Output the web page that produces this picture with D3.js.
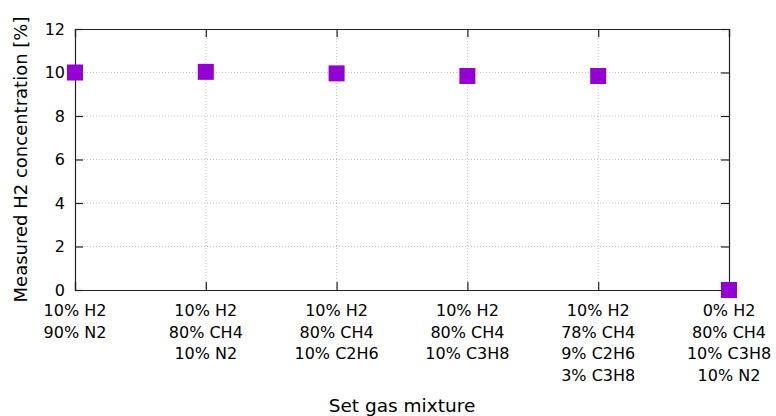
<!DOCTYPE html>
<html>
<head>
<meta charset="utf-8">
<script src="https://cdn.jsdelivr.net/npm/d3@7"></script>
<style>
body{margin:0;background:#fff;}
svg{font-family:"DejaVu Sans",sans-serif;}
</style>
</head>
<body>
<svg id="svg" width="776" height="416"></svg>
<script>
var mixtures=[
    ["10% H2","90% N2"],
    ["10% H2","80% CH4","10% N2"],
    ["10% H2","80% CH4","10% C2H6"],
    ["10% H2","80% CH4","10% C3H8"],
    ["10% H2","78% CH4","9% C2H6","3% C3H8"],
    ["0% H2","80% CH4","10% C3H8","10% N2"]
];
var measured=[10.0,10.03,9.96,9.84,9.84,0.0];
var yTicks=[0,2,4,6,8,10,12];

var svg=d3.select('#svg');
var padding={top:29,right:47,bottom:126,left:75};
var chartArea={
    "width":776-padding.left-padding.right,
    "height":416-padding.top-padding.bottom
};

var xScale=d3.scaleLinear().domain([0,mixtures.length-1]).range([0,chartArea.width]);
var yScale=d3.scaleLinear().domain([0,12]).range([chartArea.height,0]);

var g=svg.append("g").attr('transform','translate('+padding.left+','+padding.top+')');

// grid
g.selectAll(".hgrid").data(yTicks.slice(1,-1)).enter().append("line")
    .attr("x1",0).attr("x2",chartArea.width)
    .attr("y1",function(d){return yScale(d);}).attr("y2",function(d){return yScale(d);})
    .attr("stroke","#b0b0b0").attr("stroke-width",0.8).attr("stroke-dasharray","1,2");
g.selectAll(".vgrid").data(d3.range(1,mixtures.length-1)).enter().append("line")
    .attr("y1",0).attr("y2",chartArea.height)
    .attr("x1",function(d){return xScale(d);}).attr("x2",function(d){return xScale(d);})
    .attr("stroke","#b0b0b0").attr("stroke-width",0.8).attr("stroke-dasharray","1,2");

// axes
var yAxis=g.append("g").call(d3.axisLeft(yScale).tickValues(yTicks).tickSize(-8).tickPadding(10));
var yAxisR=g.append("g").attr('transform','translate('+chartArea.width+',0)')
    .call(d3.axisRight(yScale).tickValues(yTicks).tickSize(-8).tickFormat(""));
var xAxis=g.append("g").attr('transform','translate(0,'+chartArea.height+')')
    .call(d3.axisBottom(xScale).tickValues(d3.range(mixtures.length)).tickSize(-8).tickFormat(""));
var xAxisT=g.append("g")
    .call(d3.axisTop(xScale).tickValues(d3.range(mixtures.length)).tickSize(-8).tickFormat(""));
[yAxis,yAxisR,xAxis,xAxisT].forEach(function(a){
    a.select(".domain").attr("stroke","#222").attr("stroke-width",1.2);
    a.selectAll(".tick line").attr("stroke","#222").attr("stroke-width",1.2);
});
yAxis.selectAll("text").attr("font-size","16px").attr("fill","#000")
    .attr("font-family","DejaVu Sans");

// category labels
var labels=g.append("g").selectAll("text").data(mixtures).enter().append("text")
    .attr("x",function(d,i){return xScale(i);})
    .attr("y",chartArea.height+26)
    .attr("text-anchor","middle")
    .attr("font-size","16px");
labels.selectAll("tspan").data(function(d){return d;}).enter().append("tspan")
    .attr("x",function(){return d3.select(this.parentNode).attr("x");})
    .attr("dy",function(d,i){return i===0?0:21.5;})
    .text(function(d){return d;});

// points
var sz=16;
g.selectAll(".pt").data(measured).enter().append("rect")
    .attr("x",function(d,i){return xScale(i)-sz/2;})
    .attr("y",function(d){return yScale(d)-sz/2;})
    .attr("width",sz).attr("height",sz)
    .attr("fill","#9400d3");

// titles
svg.append("text").attr("x",padding.left+chartArea.width/2).attr("y",412)
    .attr("text-anchor","middle").attr("font-size","18.5px").text("Set gas mixture");
svg.append("text").attr("transform","translate(27,"+(padding.top+chartArea.height/2)+") rotate(-90)")
    .attr("text-anchor","middle").attr("font-size","18px").text("Measured H2 concentration [%]");
</script>
</body>
</html>
